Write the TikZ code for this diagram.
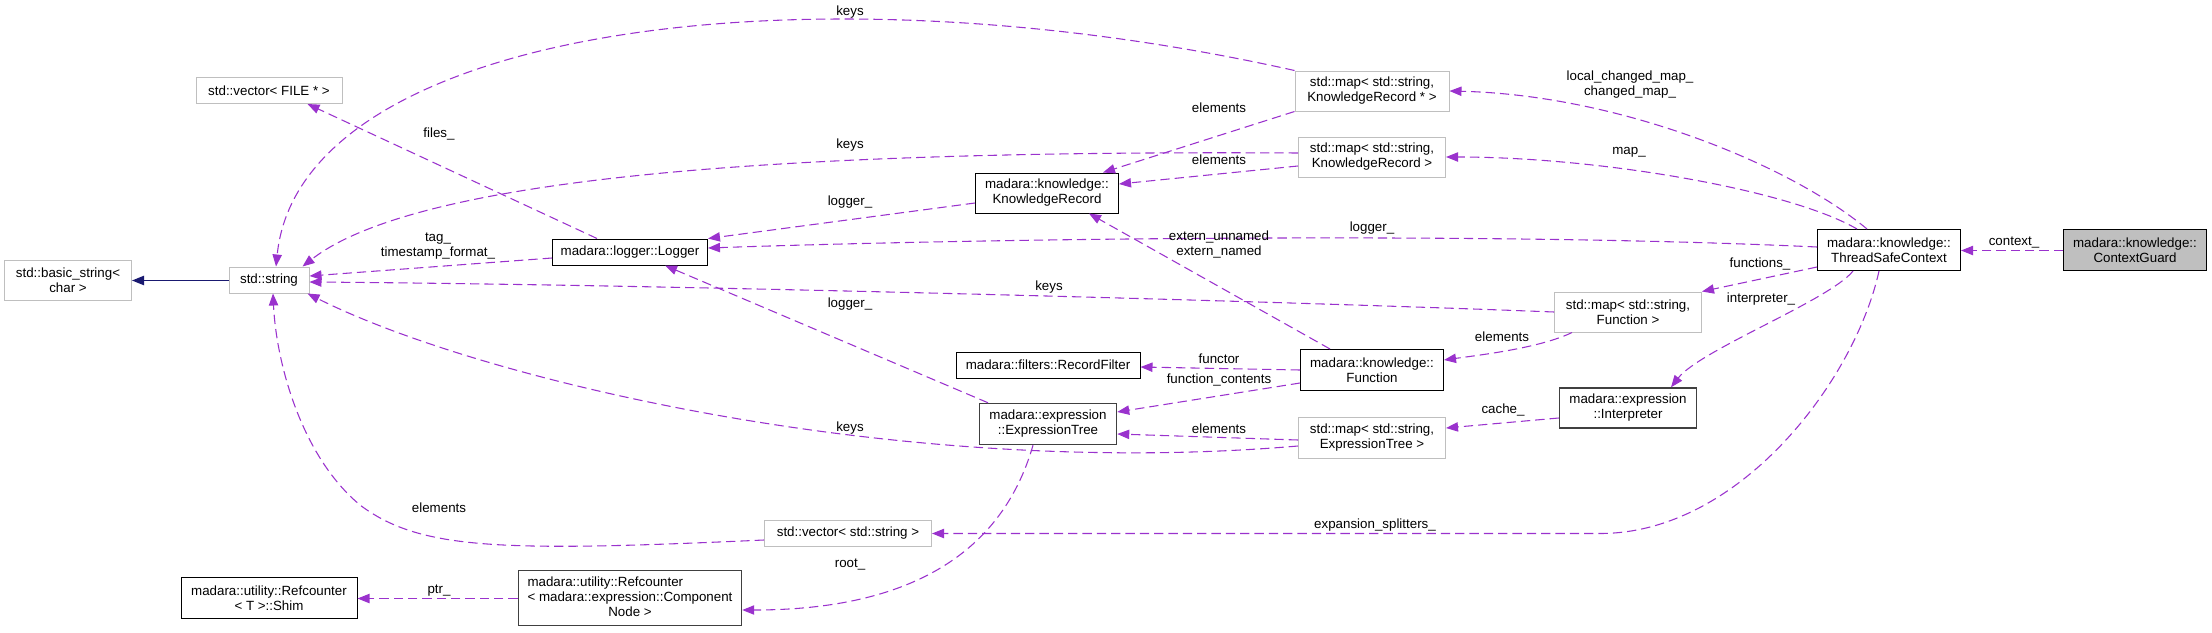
\documentclass[tikz,border=0pt]{standalone}
\usepackage{fontspec}
\setmainfont{Liberation Sans}
\usetikzlibrary{arrows.meta,calc}
\definecolor{edgepurple}{HTML}{9A32CD}
\definecolor{inhblue}{HTML}{191970}
\definecolor{lightborder}{HTML}{BFBFBF}
\definecolor{darkborder}{HTML}{404040}
\definecolor{guardfill}{HTML}{BFBFBF}
\tikzset{
  cls/.style 2 args={draw=black, line width=0.75pt, rectangle, align=center,
    minimum width=#1*0.75pt, minimum height=#2*0.75pt, inner sep=0pt},
  ext/.style 2 args={cls={#1}{#2}, draw=lightborder},
  dk/.style 2 args={cls={#1}{#2}, draw=darkborder, line width=1.1pt},
  dep/.style={draw=edgepurple, line width=0.8pt, dash pattern=on 7pt off 3.75pt,
    -{Triangle[length=9pt,width=7pt]}},
  inh/.style={draw=inhblue, line width=0.9pt, -{Triangle[length=9pt,width=7pt]}},
  lbl/.style={inner sep=0pt, align=center}
}
\begin{document}
\begin{tikzpicture}[x=0.75pt,y=-0.75pt,
  every node/.style={font=\fontsize{10}{11.25}\selectfont}]
\useasboundingbox (0,0) rectangle (2212,632);
% nodes
\node[ext={127}{40}] (bs) at (68,280) {std::basic\_string<\\char >};
\node[ext={80}{26}] (str) at (269,280) {std::string};
\node[ext={146}{26}] (vfile) at (269,90.5) {std::vector< FILE * >};
\node[cls={155}{26}] (logger) at (630,252) {madara::logger::Logger};
\node[cls={176}{41}] (shim) at (269,598) {madara::utility::Refcounter\\< T >::Shim};
\node[dk={223}{55}] (rcc) at (630,598) {\begin{tabular}{@{}l@{}}madara::utility::Refcounter\\< madara::expression::Component\\\multicolumn{1}{@{}c@{}}{Node >}\end{tabular}};
\node[ext={154}{40}] (mkrp) at (1372,91) {std::map< std::string,\\KnowledgeRecord * >};
\node[ext={147}{40}] (mkr) at (1372,157) {std::map< std::string,\\KnowledgeRecord >};
\node[cls={143}{40}] (kr) at (1047,193) {madara::knowledge::\\KnowledgeRecord};
\node[cls={184}{26}] (rf) at (1048,365) {madara::filters::RecordFilter};
\node[dk={137}{41}] (et) at (1048,424) {madara::expression\\::ExpressionTree};
\node[cls={143}{41}] (fn) at (1372,370) {madara::knowledge::\\Function};
\node[ext={147}{41}] (met) at (1372,438) {std::map< std::string,\\ExpressionTree >};
\node[ext={167}{26}] (vstr) at (848,533) {std::vector< std::string >};
\node[cls={143}{41}] (tsc) at (1889,250) {madara::knowledge::\\ThreadSafeContext};
\node[cls={143}{41}, fill=guardfill] (cg) at (2135,250) {madara::knowledge::\\ContextGuard};
\node[ext={147}{40}] (mfn) at (1628,312) {std::map< std::string,\\Function >};
\node[dk={137}{40}] (interp) at (1628,408) {madara::expression\\::Interpreter};
% edges
\draw[inh] ($(str.west)+(0,0.5)$) -- ($(bs.east)+(0,0.5)$);
\draw[dep] ($(cg.west)+(0,0.5)$) -- ($(tsc.east)+(0,0.5)$);
\draw[dep] ($(tsc.north)+(-22,0)$) .. controls (1790,165) and (1620,95) .. (mkrp.east);
\draw[dep] ($(tsc.north)+(-32,0)$) .. controls (1790,190) and (1600,157) .. (mkr.east);
\draw[dep] ($(tsc.west)+(0,-3)$) .. controls (1500,232) and (1000,238) .. ($(logger.east)+(0,-4)$);
\draw[dep] ($(tsc.west)+(0,17)$) -- (mfn.north east);
\draw[dep] ($(tsc.south)+(-36,0)$) .. controls (1830,300) and (1700,350) .. ($(interp.north)+(43,0)$);
\draw[dep] ($(tsc.south)+(-10,0)$) .. controls (1855,380) and (1740,533.5) .. (1600,533.5) -- ($(vstr.east)+(0,0.5)$);
\draw[dep] (mkrp.north west) .. controls (800,-40) and (300,30) .. ($(str.north)+(7,0)$);
\draw[dep] (mkrp.south west) -- ($(kr.north)+(56,0)$);
\draw[dep] ($(mkr.west)+(0,-4)$) .. controls (800,150) and (420,175) .. ($(str.north east)+(-7,0)$);
\draw[dep] ($(mkr.west)+(0,9)$) -- ($(kr.east)+(0,-9)$);
\draw[dep] ($(kr.west)+(0,10)$) -- (logger.north east);
\draw[dep] ($(logger.north)+(-33,0)$) -- ($(vfile.south east)+(-35,0)$);
\draw[dep] ($(logger.west)+(0,6)$) -- ($(str.east)+(0,-4)$);
\draw[dep] (mfn.west) .. controls (1300,302) and (700,285) .. ($(str.east)+(0,2)$);
\draw[dep] ($(fn.north)+(-42,0)$) -- ($(kr.south)+(42,0)$);
\draw[dep] (fn.west) -- ($(rf.east)+(0,2)$);
\draw[dep] ($(fn.west)+(0,13)$) -- ($(et.east)+(0,-12)$);
\draw[dep] ($(mfn.south west)+(18,0)$) .. controls (1540,348) and (1480,355) .. ($(fn.east)+(0,-10)$);
\draw[dep] ($(et.north)+(-60,0)$) -- ($(logger.south)+(35,0)$);
\draw[dep] ($(met.west)+(0,2)$) -- ($(et.east)+(0,10)$);
\draw[dep] ($(met.west)+(0,8)$) .. controls (900,480) and (480,380) .. ($(str.south east)+(-2,0)$);
\draw[dep] ($(vstr.west)+(0,7)$) .. controls (500,552) and (420,550) .. (360,505) .. controls (300,455) and (276,360) .. ($(str.south)+(4,0)$);
\draw[dep] ($(et.south)+(-15,0)$) .. controls (1000,560) and (900,610) .. ($(rcc.east)+(0,12)$);
\draw[dep] ($(rcc.west)+(0,0.5)$) -- ($(shim.east)+(0,0.5)$);
\draw[dep] ($(interp.west)+(0,10)$) -- ($(met.east)+(0,-10)$);
% labels
\node[lbl] (l01) at (439,134) {files\_};
\node[lbl] (l02) at (438,246.5) {tag\_\\timestamp\_format\_};
\node[lbl] (l03) at (439,508) {elements};
\node[lbl] (l04) at (439,591) {ptr\_};
\node[lbl] (l05) at (850,12) {keys};
\node[lbl] (l06) at (1219,108) {elements};
\node[lbl] (l07) at (850,145) {keys};
\node[lbl] (l08) at (1219,160) {elements};
\node[lbl] (l09) at (850,202) {logger\_};
\node[lbl] (l10) at (1219,244.5) {extern\_unnamed\\extern\_named};
\node[lbl] (l11) at (1372,228) {logger\_};
\node[lbl] (l12) at (1049,287) {keys};
\node[lbl] (l13) at (850,304) {logger\_};
\node[lbl] (l14) at (1219,359) {functor};
\node[lbl] (l15) at (1219,380) {function\_contents};
\node[lbl] (l16) at (850,428) {keys};
\node[lbl] (l17) at (1219,429) {elements};
\node[lbl] (l18) at (1375,525) {expansion\_splitters\_};
\node[lbl] (l19) at (850,565) {root\_};
\node[lbl] (l20) at (1630,84.5) {local\_changed\_map\_\\changed\_map\_};
\node[lbl] (l21) at (1629,152) {map\_};
\node[lbl] (l22) at (2014,243) {context\_};
\node[lbl] (l23) at (1760,264) {functions\_};
\node[lbl] (l24) at (1761,299) {interpreter\_};
\node[lbl] (l25) at (1502,337) {elements};
\node[lbl] (l26) at (1503,410) {cache\_};
\end{tikzpicture}
\end{document}
